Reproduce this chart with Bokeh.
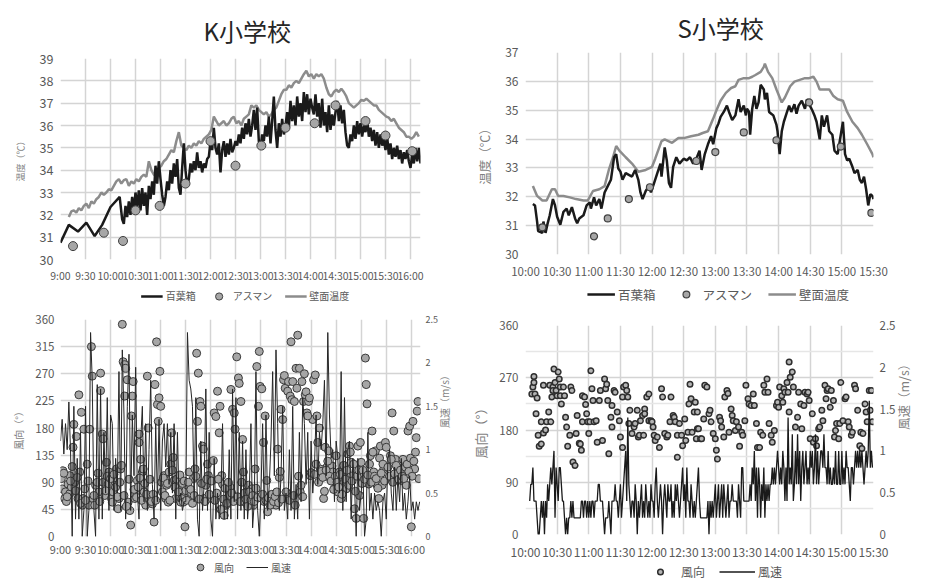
import math
from bokeh.plotting import figure
from bokeh.models import Range1d, LinearAxis, FixedTicker, Legend, LegendItem, Spacer
from bokeh.layouts import column, row
from bokeh.embed import file_html
from bokeh.resources import INLINE

FONT = "Noto Sans CJK JP"
LBL = "#595959"
AXT = "#7f7f7f"
GRID = "#d4d4d4"

# ---------------- axis ticks ----------------
k_ticks = [0, 30, 60, 90, 120, 150, 180, 210, 240, 270, 300, 330, 360, 390, 420]
k_tick_labels = ["9:00", "9:30", "10:00", "10:30", "11:00", "11:30", "12:00", "12:30",
                 "13:00", "13:30", "14:00", "14:30", "15:00", "15:30", "16:00"]
s_ticks = [0, 30, 60, 90, 120, 150, 180, 210, 240, 270, 300, 330]
s_tick_labels = ["10:00", "10:30", "11:00", "11:30", "12:00", "12:30", "13:00", "13:30",
                 "14:00", "14:30", "15:00", "15:30"]

# ---------------- K school temperatures (minutes after 9:00) ----------------
k_box_sparse_t = [0, 10, 21, 31, 41, 50, 60, 71]
k_box_sparse_v = [30.75, 31.55, 31.25, 31.65, 31.05, 31.55, 32.35, 32.8]
k_box_dense_v = [31.8, 31.6, 32.4, 31.9, 32.6, 32.0, 32.8, 32.2, 33.0, 32.3, 33.1, 32.2, 33.2, 32.4,
                 33.0, 32.0, 33.3, 32.7, 33.5, 32.9, 34.2, 33.4, 34.4, 33.6, 32.9, 32.4, 32.8, 33.5,
                 33.1, 34.0, 33.4, 34.3, 33.7, 34.5, 33.2, 32.9, 34.1, 35.2, 34.0, 33.3, 33.6, 34.3,
                 33.9, 34.4, 34.0, 34.8, 34.1, 34.4, 33.9, 34.3, 34.1, 34.5, 34.6, 35.3, 34.9, 35.9,
                 35.0, 34.7, 35.2, 33.9, 34.9, 35.3, 34.6, 35.2, 34.7, 35.4, 34.8, 35.0, 35.3,
                 35.1, 35.6, 35.2, 35.9, 35.4, 36.1, 35.6, 36.3, 35.5, 36.0, 36.7, 35.8, 36.8, 35.3,
                 35.0, 35.6, 35.3, 36.0, 35.5, 36.4, 35.2, 36.2, 37.3, 35.8, 35.0, 36.1, 35.5, 36.3,
                 35.6, 36.0, 36.6, 35.9, 37.1, 36.2, 36.9, 36.0, 37.3, 36.4, 37.0, 36.2, 37.5, 36.6,
                 37.4, 36.5, 37.2, 36.8, 36.5, 37.4, 36.4, 37.0, 35.9, 37.2, 36.0, 36.6, 35.7, 36.9,
                 35.8, 36.5, 36.0, 36.6, 37.1, 36.2, 36.9, 36.1, 36.7, 35.7, 35.1, 35.0, 35.6, 35.3,
                 36.0, 35.4, 36.2, 35.6, 36.1, 35.5, 36.0, 35.7, 36.3, 35.5, 35.9, 35.3, 35.8, 35.1,
                 35.7, 35.0, 35.6, 35.1, 35.4, 34.9, 35.5, 34.7, 35.2, 34.5, 35.0, 34.6, 35.1, 34.5,
                 34.9, 34.3, 34.8, 34.5, 34.9, 34.4, 34.1, 34.7, 34.3, 35.0, 34.4, 35.0, 34.3]
k_wall_v = [31.9, 32.15, 32.2, 32.1, 32.3, 32.2, 32.4, 32.5, 32.3, 32.6, 32.5, 32.7, 32.8, 33.0,
            32.9, 33.0, 33.15, 33.1, 33.3, 33.5, 33.6, 33.4, 33.55, 33.6, 33.3, 33.5, 33.4, 33.6,
            33.5, 33.7, 33.8, 33.7, 34.4, 34.0, 33.8, 33.7, 34.1, 34.2, 34.4, 34.5, 34.7, 34.9,
            34.8, 35.3, 35.7, 35.1, 35.0, 34.9, 35.1, 35.0, 35.2, 35.1, 35.3, 35.2, 35.4, 35.5,
            35.6, 35.8, 36.4, 36.2, 36.0, 36.1, 36.2, 36.0, 36.1, 36.3, 36.4, 36.1, 36.2, 36.0,
            36.3, 36.4, 36.5, 36.9, 36.8, 36.9, 36.7, 36.6, 36.5, 36.6, 36.4, 36.5, 36.7, 36.8,
            37.1, 37.4, 37.6, 37.6, 37.8, 37.7, 37.9, 38.0, 37.9, 38.1, 38.3, 38.45, 38.2, 38.3,
            38.1, 38.3, 38.2, 38.3, 38.1, 37.7, 37.4, 37.3, 37.5, 37.6, 37.5, 37.65, 37.5, 37.3,
            37.0, 36.9, 36.8, 36.9, 37.0, 37.15, 37.1, 37.2, 37.1, 37.0, 36.9, 36.9, 36.7, 36.6,
            36.5, 36.4, 36.35, 36.2, 36.3, 36.1, 35.9, 35.8, 35.7, 35.5, 35.5, 35.4, 35.5, 35.7,
            35.5]
k_asu_t = [15, 52, 75, 90, 119, 150, 180, 210, 241, 270, 305, 330, 366, 390, 422]
k_asu_v = [30.6, 31.2, 30.83, 32.2, 32.4, 33.4, 35.3, 34.2, 35.1, 35.9, 36.1, 36.9, 36.2, 35.55, 34.85]

# ---------------- S school temperatures (minutes after 10:00) ----------------
s_box_t = [7, 9, 11, 12, 16, 17, 19, 21, 23, 26, 28, 30, 33, 36, 39, 41, 44, 47, 49, 51, 55, 58, 61,
           62, 65, 67, 70, 72, 75, 78, 81, 84, 86, 88, 90, 92, 95, 98, 101, 104, 107, 109, 111, 114,
           117, 119, 122, 125, 128, 129, 132, 134, 136, 138, 140, 143, 146, 150, 153, 156, 159, 162,
           165, 167, 170, 173, 176, 178, 181, 183, 185, 188, 191, 193, 196, 199, 202, 204, 207, 209,
           210, 212, 213, 215, 217, 219, 221, 223, 226, 227, 229, 231, 233, 235, 238, 239, 241, 243,
           245, 248, 250, 252, 255, 257, 259, 262, 265, 267, 269, 272, 274, 276, 279, 281, 283, 286,
           288, 291, 293, 296, 298, 301, 303, 305, 307, 310, 312, 315, 317, 319, 321, 323, 325, 327,
           329, 330]
s_box_v = [31.75, 31.70, 31.14, 30.81, 30.75, 31.14, 30.75, 31.08, 31.36, 31.92, 31.70, 31.31, 31.03,
           31.48, 31.59, 31.36, 31.64, 31.25, 31.08, 31.25, 31.36, 31.70, 31.81, 31.59, 31.98, 31.70,
           31.92, 31.59, 32.15, 32.37, 32.59, 33.37, 33.48, 32.98, 32.87, 32.59, 32.82, 32.76, 32.70,
           32.93, 32.59, 32.15, 31.92, 32.20, 32.37, 32.15, 32.48, 32.82, 33.15, 32.70, 33.71, 33.26,
           32.48, 32.31, 33.04, 33.37, 33.15, 33.32, 33.26, 33.37, 33.15, 33.32, 33.60, 32.93, 33.48,
           33.82, 34.10, 33.82, 34.38, 34.54, 34.77, 34.94, 35.16, 34.94, 34.66, 34.82, 35.38, 34.94,
           35.16, 34.82, 35.05, 34.94, 34.15, 35.05, 35.49, 35.05, 35.27, 35.88, 35.72, 35.38, 35.60,
           34.94, 34.88, 34.82, 34.49, 34.27, 33.48, 34.27, 34.60, 34.94, 35.16, 34.94, 35.21, 34.88,
           35.16, 35.33, 35.05, 35.38, 35.21, 34.99, 34.82, 34.60, 33.99, 34.82, 34.43, 34.82, 34.27,
           34.15, 33.60, 33.48, 33.93, 34.60, 33.48, 33.26, 33.32, 33.04, 32.82, 32.93, 32.59, 32.48,
           32.70, 32.26, 31.70, 32.09, 32.03, 31.92]
s_wall_t = [7, 11, 16, 20, 25, 28, 31, 36, 42, 48, 55, 59, 64, 70, 75, 79, 83, 86, 89, 95, 101, 107,
            114, 120, 123, 129, 132, 139, 145, 151, 157, 164, 168, 173, 178, 181, 185, 190, 195, 199,
            202, 207, 212, 215, 218, 223, 226, 227, 230, 234, 238, 243, 246, 251, 255, 260, 265, 269,
            273, 276, 279, 283, 288, 292, 296, 301, 305, 310, 315, 319, 324, 329, 330]
s_wall_v = [32.37, 32.03, 31.87, 31.87, 32.26, 32.26, 32.03, 32.03, 31.98, 31.92, 31.87, 31.87, 32.20,
            32.26, 32.37, 32.93, 33.37, 33.76, 33.60, 33.37, 33.15, 32.87, 32.93, 33.04, 33.32, 33.93,
            33.99, 33.87, 34.04, 34.04, 34.10, 34.15, 34.21, 34.27, 34.71, 34.99, 35.33, 35.60, 35.77,
            35.83, 36.05, 36.11, 36.11, 36.16, 36.22, 36.33, 36.50, 36.61, 36.33, 36.11, 35.72, 35.27,
            35.44, 35.83, 35.99, 36.05, 36.11, 36.11, 36.16, 35.99, 35.72, 35.72, 35.72, 35.49, 35.38,
            35.33, 34.94, 34.60, 34.38, 34.15, 33.82, 33.48, 33.37]
s_asu_t = [16, 65, 78, 98, 118, 162, 180, 207, 238, 269, 299, 328]
s_asu_v = [30.94, 30.63, 31.25, 31.92, 32.33, 33.24, 33.55, 34.23, 33.96, 35.27, 33.74, 31.44]

# ---------------- K school wind (minutes after 9:00) ----------------
k_dir_t = [1, 2, 3, 5, 6, 7, 9, 11, 11, 13, 14, 15, 16, 17, 18, 19, 21, 22, 23, 25, 26, 27, 28, 29,
           32, 34, 35, 37, 38, 39, 41, 42, 44, 46, 48, 48, 50, 51, 51, 53, 55, 57, 58,
           61, 63, 65, 67, 69, 70, 72, 74, 75, 77, 78, 80, 77, 81, 83, 84, 85, 86, 87, 89, 90,
           92, 94, 94, 96, 98, 98, 100, 102, 104, 105, 106, 108, 110, 112, 113, 115, 116, 117, 118, 119, 120,
           121, 122, 124, 126, 127, 129, 130, 132, 133, 135, 136, 138, 140, 142, 144, 145, 147, 149, 150,
           152, 154, 155, 157, 159, 161, 163, 164, 165, 167, 168, 170, 171, 172, 174, 176, 177, 179, 180,
           183, 184, 186, 188, 190, 191, 193, 194, 196, 198, 200, 202, 203, 204, 206, 208, 209, 210,
           211, 213, 214, 216, 218, 219, 221, 223, 225, 227, 229, 231, 233, 235, 237, 238, 239, 241,
           243, 245, 247, 248, 250, 252, 254, 256, 258, 260, 262, 264, 266, 267, 268, 269,
           272, 273, 275, 276, 277, 278, 280, 282, 283, 284, 286, 287, 288, 289, 291, 293, 295, 297, 299,
           302, 303, 305, 307, 308, 310, 311, 313, 315, 317, 319, 321, 323, 325, 326, 328, 330,
           332, 334, 336, 338, 340, 342, 344, 346, 348, 350, 352, 354, 356, 358, 359, 360,
           363, 365, 366, 367, 369, 371, 373, 375, 377, 379, 381, 383, 385, 387, 389, 390,
           393, 395, 397, 399, 401, 403, 404, 406, 408, 410, 412, 414, 416, 418, 420, 422, 424, 426, 427, 428, 429,
           4, 8, 12, 20, 24, 30, 33, 40, 45, 47, 54, 56,
           60, 62, 64, 66, 68, 71, 73, 76, 79, 82, 88, 91, 93, 95, 97, 99, 101, 103, 107, 109, 111, 114,
           123, 125, 128, 131, 134, 137, 139, 141, 143, 146, 148, 151, 153, 156, 158, 160, 162, 166, 169, 173, 175, 178,
           181, 185, 187, 189, 192, 195, 197, 199, 201, 205, 207, 212, 215, 217, 220, 222, 224, 226, 228, 230, 232, 234, 236, 240,
           242, 244, 246, 249, 251, 253, 255, 257, 259, 261, 263, 265, 270, 274, 279, 281, 285, 290, 292, 294, 296, 298, 300,
           304, 306, 309, 312, 314, 316, 318, 320, 322, 324, 327, 329, 331, 333, 335, 337, 339, 341, 343, 345, 347, 349, 351, 353, 355, 357,
           361, 362, 364, 368, 370, 372, 374, 376, 378, 380, 382, 384, 386, 388,
           392, 394, 396, 398, 400, 402, 405, 407, 409, 411, 413, 415, 417, 419, 421, 423, 425]
k_dir_v = [96, 79, 109, 63, 74, 58, 87, 101, 71, 82, 116, 148, 186, 90, 76, 166, 63, 235, 107, 206, 52, 63, 178, 79,
           120, 52, 178, 315, 266, 63, 52, 85, 90, 74, 271, 242, 170, 162, 90, 68, 123, 87, 107,
           63, 74, 85, 112, 46, 63, 112, 352, 290, 285, 279, 260, 233, 57, 43, 19, 200, 233, 257, 63, 71,
           93, 170, 156, 128, 90, 107, 74, 52, 266, 180, 63, 57, 54, 24, 252, 323, 219, 191, 230, 274, 216,
           90, 74, 101, 63, 85, 57, 107, 120, 172, 131, 93, 63, 79, 66, 57, 63, 57, 16, 76,
           85, 107, 63, 71, 96, 112, 304, 191, 271, 224, 216, 150, 145, 63, 85, 120, 101, 93, 63,
           126, 205, 199, 241, 172, 216, 101, 87, 35, 52, 63, 68, 82, 244, 211, 205, 178, 63,
           298, 263, 254, 224, 161, 107, 57, 74, 85, 63, 79, 52, 112, 282, 216, 307, 249, 245,
           156, 200, 93, 41, 63, 68, 57, 68, 52, 145, 98, 211, 194, 260, 267, 246,
           241, 257, 233, 323, 227, 257, 224, 279, 246, 334, 279, 74, 85, 257, 224, 235, 205, 224, 101,
           194, 260, 268, 200, 156, 180, 112, 107, 63, 148, 115, 142, 96, 117, 107, 90, 134,
           74, 107, 63, 93, 107, 79, 137, 150, 123, 101, 46, 30, 150, 68, 156, 123,
           30, 296, 252, 220, 87, 134, 175, 107, 142, 85, 63, 150, 85, 112, 156, 148,
           96, 134, 205, 175, 128, 115, 101, 107, 93, 128, 112, 85, 175, 183, 16, 191, 112, 164, 208, 224, 96,
           105, 66, 92, 98, 55, 60, 92, 68, 105, 58, 76, 100,
           96, 57, 103, 82, 66, 90, 118, 68, 50, 95, 78, 65, 82, 97, 60, 112, 88, 70, 95, 58, 70, 60,
           97, 68, 88, 60, 110, 82, 95, 74, 102, 88, 92, 60, 90, 78, 55, 68, 100, 62, 88, 58, 95, 70,
           92, 60, 72, 95, 45, 62, 80, 55, 90, 72, 58, 66, 58, 90, 72, 62, 50, 74, 60, 68, 58, 80, 65, 64,
           70, 58, 60, 64, 52, 70, 58, 66, 74, 56, 108, 62, 74, 60, 68, 52, 100, 66, 270, 240, 200, 230, 106,
           103, 120, 90, 108, 98, 75, 110, 125, 100, 92, 78, 100, 90, 82, 103, 70, 118, 95, 110, 85, 140, 92, 120, 75, 100, 110,
           88, 110, 95, 102, 120, 90, 140, 100, 96, 80, 130, 105, 120, 92,
           115, 100, 128, 90, 104, 118, 95, 110, 100, 96, 115, 120, 108, 130, 100, 125, 140]
k_spd_v = [1.1, 1.35, 0.95, 1.3, 1.0, 1.55, 1.0, 0.0, 1.5, 0.2, 0.9, 0.2, 1.2, 0.0, 0.3,
           1.5, 0.0, 0.3, 2.35, 1.8, 0.3, 0.0, 1.75, 0.2, 1.7, 0.2, 1.2, 0.5, 1.6, 0.3,
           1.4, 1.3, 0.3, 0.9, 0.5, 1.9, 0.3, 2.15, 1.4, 0.2, 1.5, 2.1, 0.3, 1.4, 0.7,
           1.95, 0.5, 0.2, 1.1, 1.5, 0.4, 1.3, 0.3, 1.0, 1.8, 0.6, 0.2, 1.3, 0.4, 1.35,
           0.3, 1.1, 1.3, 0.8, 1.3, 0.6, 1.2, 0.5, 1.3, 0.2, 1.2, 0.4, 0.5, 0.3, 0.4,
           0.4, 2.35, 1.8, 1.7, 1.5, 0.4, 1.6, 0.2, 0.0, 1.1, 0.3, 0.6, 1.7, 0.3, 1.2,
           0.2, 0.0, 0.9, 0.2, 0.5, 0.2, 0.4, 1.3, 0.2, 0.6, 0.2, 1.0, 0.2, 1.7, 0.4,
           1.6, 0.2, 1.2, 0.3, 1.1, 0.2, 1.0, 0.2, 0.5, 1.3, 0.1, 0.4, 1.9, 0.3, 0.0,
           0.5, 1.3, 0.2, 1.4, 0.3, 0.6, 1.1, 1.9, 0.7, 2.15, 1.3, 0.3, 0.7, 1.5, 0.3,
           0.5, 0.2, 1.0, 0.3, 1.5, 0.2, 0.6, 0.2, 1.2, 0.4, 1.6, 1.3, 0.6, 1.2, 0.2,
           1.1, 0.5, 0.8, 1.4, 0.6, 1.2, 1.0, 1.3, 1.8, 0.7, 2.35, 1.4, 0.9, 1.0, 0.4,
           1.1, 0.9, 0.5, 1.9, 0.3, 1.6, 0.4, 1.0, 1.1, 0.2, 0.9, 0.6, 0.0, 0.9, 0.3,
           0.5, 0.8, 0.0, 0.2, 1.2, 0.3, 0.5, 0.2, 0.5, 0.3, 0.4, 0.3, 0.0, 0.4, 0.5,
           0.2, 0.9, 1.0, 0.5, 0.3, 0.8, 0.3, 0.7, 0.4, 0.9, 0.3, 0.5, 0.2, 0.4, 0.7,
           0.3, 0.4, 0.2, 0.4, 0.3, 0.4]

# ---------------- S school wind (minutes after 10:00) ----------------
s_dir_t = [6, 7, 8, 8, 9, 11, 10, 12, 13, 15, 15, 17, 19, 20, 22, 17, 23, 24, 25, 26, 26, 27, 28, 29,
           30, 31, 32, 33, 33, 34, 36, 37, 38, 39, 40, 42, 43, 44, 45, 47, 48, 49, 51, 52, 53, 54, 54,
           56, 57, 58, 59, 60, 61, 62, 63, 64, 65, 67, 68, 70, 71, 73, 75, 76, 77, 78, 79, 81, 82, 82,
           84, 85, 87, 89, 90, 92, 92, 93, 95, 96, 97, 98, 99, 101, 103, 104, 106, 107, 108, 109, 111,
           112, 113, 113, 115, 117, 117, 119, 120, 121, 122, 123, 125, 127, 129, 130, 132, 134, 135,
           137, 138, 140, 141, 142, 144, 144, 146, 148, 149, 151, 152, 154, 155, 156, 157, 158, 160,
           162, 163,
           161, 163, 164, 166, 167, 169, 170, 172, 174, 175, 176, 178, 180, 181, 182, 184, 185, 186,
           188, 189, 191, 192, 193, 195, 196, 197, 199, 200, 202, 203, 205, 206, 208, 209, 211, 212,
           214, 216, 217, 219, 220, 222, 223, 225, 226, 227, 229, 230, 231, 233, 234, 236, 238, 239,
           240, 241, 243, 244, 245, 246, 248, 249, 250, 250, 251, 253, 254, 256, 258, 259, 261, 262,
           264, 265, 267, 268, 269, 270, 272, 273, 275, 276, 278, 279, 281, 282, 284, 285, 286, 287,
           289, 290, 292, 293, 294, 295, 297, 298, 299, 301, 303, 304, 306, 307, 309, 310, 312, 313,
           315, 317, 318, 319, 320, 322, 323, 324, 326, 327, 329, 328]
s_dir_v = [242, 254, 262, 272, 242, 235, 208, 171, 152, 156, 194, 175, 180, 194, 211, 257, 257, 194,
           237, 254, 248, 285, 262, 248, 239, 280, 268, 254, 239, 225, 254, 239, 202, 185, 152, 171,
           254, 248, 125, 119, 174, 205, 157, 156, 145, 194, 239, 237, 224, 208, 194, 174, 194, 282,
           251, 231, 194, 196, 159, 231, 248, 162, 268, 251, 259, 231, 139, 202, 185, 222, 248, 245,
           211, 196, 168, 150, 237, 254, 257, 248, 237, 191, 214, 174, 185, 191, 214, 168, 171, 196,
           205, 171, 216, 208, 237, 242, 196, 196, 194, 185, 171, 162, 168, 150, 251, 237, 174, 168,
           171, 194, 237, 205, 202, 194, 171, 133, 191, 171, 153, 199, 162, 176, 225, 259, 234, 176,
           211, 165, 182,
           228, 211, 182, 165, 165, 199, 257, 254, 208, 214, 194, 174, 165, 145, 130, 202, 196, 185,
           168, 237, 248, 243, 176, 216, 205, 196, 179, 194, 185, 152, 176, 171, 196, 257, 234, 225,
           222, 242, 222, 191, 150, 150, 176, 171, 257, 245, 268, 245, 191, 171, 159, 179, 222, 228,
           219, 254, 239, 228, 251, 245, 262, 245, 211, 297, 271, 280, 254, 185, 202, 245, 225, 182,
           222, 245, 242, 245, 231, 165, 208, 159, 165, 153, 182, 185, 214, 196, 257, 234, 248, 251,
           219, 248, 231, 168, 179, 191, 165, 191, 262, 196, 234, 237, 194, 185, 171, 176, 257, 251,
           214, 153, 176, 148, 174, 225, 211, 194, 248, 214, 194, 248]
s_spd_v = [0.4, 0.6, 0.6, 0.8, 0.4, 0.4,
           0.4, 0.2, 0.0, 0.0, 0.2, 0.4, 0.2, 0.4, 0.0, 0.4,
           0.2, 0.6, 0.4, 0.6, 0.8, 0.6, 0.8, 1.0, 0.2, 0.8,
           0.6, 0.4, 0.8, 0.8, 0.6, 0.4, 0.4, 0.2, 0.0, 0.2,
           0.0, 0.2, 0.2, 0.4, 0.2, 0.4, 0.2, 0.2, 0.2, 0.2,
           0.2, 0.2, 0.2, 0.4, 0.4, 0.2, 0.4, 0.4, 0.2, 0.4,
           0.2, 0.4, 0.2, 0.4, 0.4, 0.2, 0.4, 0.4, 0.4, 0.6,
           0.6, 0.4, 0.4, 0.4, 0.2, 0.0, 0.2, 0.2, 0.2, 0.4,
           0.2, 0.0, 0.4, 0.4, 0.4, 0.6, 0.4, 0.4, 0.2, 0.4,
           0.6, 0.2, 0.4, 0.6, 0.8, 1.0, 0.4, 1.4, 0.6, 0.4,
           0.2, 0.4, 0.4, 0.2, 0.6, 0.4, 0.0, 0.4, 0.2, 0.4,
           0.6, 0.2, 0.4, 0.2, 0.6, 0.4, 0.2, 0.4, 0.2, 0.6,
           0.4, 0.4, 0.2, 0.6, 0.8, 0.4, 0.2, 0.4, 0.6, 0.4,
           0.0, 0.4, 0.6, 0.4, 0.2, 0.6, 0.4, 0.4, 0.6, 0.2,
           0.4, 0.2, 0.6, 0.4, 0.6, 0.4, 0.2, 0.4, 0.6, 0.8,
           0.4, 0.6, 0.2, 0.8, 0.4, 0.4, 0.2, 0.6, 0.4, 0.2,
           0.4, 0.2, 0.4, 0.6, 0.8, 0.4, 0.2, 0.2, 0.2, 0.2,
           0.2, 0.2, 0.2, 0.4, 0.0, 0.4, 0.2, 0.4, 0.2, 0.4,
           0.6, 0.2, 0.4, 0.6, 0.2, 0.4, 0.6, 0.2, 0.6, 0.4,
           0.2, 0.4, 0.6, 0.2, 0.4, 0.4, 0.6, 0.4, 0.4, 0.4,
           0.4, 0.2, 0.6, 0.4, 0.2, 0.8, 0.8, 0.4, 0.4, 0.4,
           0.4, 0.4, 0.4, 0.6, 0.4, 0.8, 0.6, 1.0, 0.4, 0.8,
           0.2, 0.8, 0.6, 0.2, 0.6, 0.4, 0.8, 0.2, 0.6, 0.4,
           0.6, 0.4, 0.6, 0.6, 0.8, 0.6, 0.8, 0.6, 0.8, 1.0,
           0.8, 0.6, 0.8, 0.6, 1.0, 0.8, 0.4, 0.8, 0.4, 1.4,
           0.6, 0.8, 0.6, 1.2, 0.4, 0.6, 1.0, 0.6, 1.2, 0.6,
           1.0, 0.4, 0.8, 1.0, 0.6, 0.8, 1.0, 0.6, 0.8, 0.6,
           1.0, 0.8, 1.0, 0.6, 0.8, 1.2, 0.6, 1.0, 0.6, 0.8,
           1.0, 1.0, 0.8, 1.2, 0.8, 0.8, 0.6, 1.0, 0.6, 0.8,
           0.6, 0.6, 0.8, 0.6, 1.0, 0.6, 0.6, 1.0, 0.6, 0.6,
           1.0, 0.6, 0.8, 0.6, 1.0, 0.8, 0.8, 0.6, 0.4, 0.8,
           0.8, 0.6, 0.8, 1.0, 0.8, 1.0, 0.8, 1.0, 0.8, 1.0,
           0.8, 0.6, 0.8, 1.0, 0.8, 1.0, 1.6, 0.8, 1.0, 0.8]

# derived sample times (sampling interval of the loggers)
k_box_t = k_box_sparse_t + [74 + 2 * i for i in range(len(k_box_dense_v))]
k_box_v = k_box_sparse_v + k_box_dense_v
k_wall_t = [10 + 3 * i for i in range(len(k_wall_v))]
k_spd_t = [2 * i for i in range(len(k_spd_v))]
s_spd_t = [4 + i for i in range(len(s_spd_v))]

# styles
BOX = dict(line_color="#1a1a1a", line_width=2.5)
WALL = dict(line_color="#8c8c8c", line_width=2.5)
ASU_K = dict(marker="circle", size=9, fill_color="#a6a6a6", line_color="#404040", line_width=1)
ASU_S = dict(marker="circle", size=7, fill_color="#a6a6a6", line_color="#404040", line_width=1.2)
DIR_K = dict(marker="circle", size=8, fill_color="#a6a6a6", line_color="#3a3a3a", line_width=1)
DIR_S = dict(marker="circle", size=5.5, fill_color="#b4b4b4", line_color="#2e2e2e", line_width=1.5)
SPD_K = dict(line_color="#262626", line_width=1)
SPD_S = dict(line_color="#1a1a1a", line_width=1.3)

W1 = 462   # left column width
W2 = 463   # right column width


def make_fig(width, height, x_end, y0, y1, bl, br, bt, bb):
    p = figure(width=width, height=height, x_range=Range1d(0, x_end), y_range=Range1d(y0, y1),
               output_backend="svg", toolbar_location=None,
               min_border_left=bl, min_border_right=br, min_border_top=bt, min_border_bottom=bb)
    p.outline_line_color = None
    p.grid.grid_line_color = GRID
    p.grid.grid_line_width = 1.5
    return p


def style_axes(p, ticks, labels, xsize, ysize, xstand, ystand):
    p.xaxis.ticker = FixedTicker(ticks=ticks)
    p.xaxis.major_label_overrides = dict(zip(ticks, labels))
    for ax in p.axis:
        ax.axis_line_color = None
        ax.major_tick_line_color = None
        ax.minor_tick_line_color = None
        ax.major_tick_out = 0
        ax.major_tick_in = 0
        ax.minor_tick_out = 0
        ax.major_label_text_font = FONT
        ax.major_label_text_color = LBL
        ax.axis_label_text_font = FONT
        ax.axis_label_text_color = AXT
        ax.axis_label_text_font_style = "normal"
    p.xaxis.major_label_text_font_size = xsize
    p.xaxis.major_label_standoff = xstand
    p.yaxis[0].major_label_text_font_size = ysize
    p.yaxis[0].major_label_standoff = ystand


def style_title(p, text, size, standoff, offset):
    p.title.text = text
    p.title.align = "left"
    p.title.offset = offset
    p.title.text_font = FONT
    p.title.text_font_size = size
    p.title.text_font_style = "normal"
    p.title.text_color = "#262626"
    p.title.standoff = standoff


def legend_fig(width, height, entries, size, gw, gh, spacing):
    # small key strip under a chart; proxy renderers sit outside its visible range
    f = figure(width=width, height=height, x_range=Range1d(0, 1), y_range=Range1d(0, 1),
               output_backend="svg", toolbar_location=None, min_border=0,
               x_axis_location=None, y_axis_location=None)
    f.outline_line_color = None
    f.grid.visible = False
    items = []
    for label, kind, style in entries:
        if kind == "line":
            r = f.line([-2, -1], [-2, -1], **style)
        else:
            r = f.scatter([-2], [-2], **style)
        items.append(LegendItem(label=label, renderers=[r]))
    lg = Legend(items=items, orientation="horizontal", location="center")
    lg.label_text_font = FONT
    lg.label_text_font_size = size
    lg.label_text_color = LBL
    lg.border_line_color = None
    lg.background_fill_alpha = 0
    lg.glyph_width = gw
    lg.glyph_height = gh
    lg.label_height = gh
    lg.label_standoff = 3
    lg.spacing = spacing
    lg.padding = 0
    lg.margin = 0
    f.add_layout(lg)
    return f


# ---------- panel 1 : K temperature ----------
p1 = make_fig(W1, 288, 432, 30, 39, 60, 24, 50, 29)
style_title(p1, "K小学校", "24px", 21, 143)
p1.line(k_wall_t, k_wall_v, **WALL)
p1.line(k_box_t, k_box_v, **BOX)
p1.scatter(k_asu_t, k_asu_v, **ASU_K)
p1.yaxis.ticker = FixedTicker(ticks=[30, 31, 32, 33, 34, 35, 36, 37, 38, 39])
p1.yaxis.axis_label = "温度（℃）"
p1.yaxis.axis_label_text_font_size = "9px"
p1.yaxis.axis_label_standoff = 10
style_axes(p1, k_ticks, k_tick_labels, "10.5px", "12.5px", 8, 7)
leg1 = legend_fig(300, 15, [("百葉箱", "line", BOX), ("アスマン", "scatter", ASU_K),
                            ("壁面温度", "line", WALL)], "10px", 22, 18, 12)

# ---------- panel 2 : S temperature ----------
p2 = make_fig(W2, 284, 330, 30, 37, 63, 30, 45, 30)
style_title(p2, "S小学校", "24px", 15, 152)
p2.line(s_wall_t, s_wall_v, **WALL)
p2.line(s_box_t, s_box_v, **BOX)
p2.scatter(s_asu_t, s_asu_v, **ASU_S)
p2.yaxis.ticker = FixedTicker(ticks=[30, 31, 32, 33, 34, 35, 36, 37])
p2.yaxis.axis_label = "温度（℃）"
p2.yaxis.axis_label_text_font_size = "12.5px"
p2.yaxis.axis_label_standoff = 8
style_axes(p2, s_ticks, s_tick_labels, "11.5px", "12px", 8, 7)
leg2 = legend_fig(330, 19, [("百葉箱", "line", BOX), ("アスマン", "scatter", ASU_S),
                            ("壁面温度", "line", WALL)], "12.5px", 28, 17, 16)

# ---------- panel 3 : K wind ----------
p3 = make_fig(W1, 256, 431, 0, 360, 60, 25, 16, 21)
p3.extra_y_ranges = {"spd": Range1d(0, 2.5)}
p3.scatter(k_dir_t, k_dir_v, **DIR_K)
p3.line(k_spd_t, k_spd_v, y_range_name="spd", **SPD_K)
p3.yaxis.ticker = FixedTicker(ticks=[0, 45, 90, 135, 180, 225, 270, 315, 360])
p3.yaxis.axis_label = "風向（°）"
p3.yaxis.axis_label_text_font_size = "10px"
p3.yaxis.axis_label_standoff = 6
ax3 = LinearAxis(y_range_name="spd", ticker=FixedTicker(ticks=[0, 0.5, 1, 1.5, 2, 2.5]),
                 major_label_overrides={0: "0", 0.5: "0.5", 1: "1", 1.5: "1.5", 2: "2", 2.5: "2.5"},
                 axis_label="風速（m/s）", axis_label_text_font_size="10px")
p3.add_layout(ax3, "right")
style_axes(p3, k_ticks, k_tick_labels, "11px", "11.5px", 4, 6)
ax3.major_label_text_font_size = "9px"
ax3.major_label_standoff = 5
ax3.axis_label_standoff = 4
ax3.axis_label_orientation = math.pi / 2
leg3 = legend_fig(200, 15, [("風向", "scatter", DIR_K), ("風速", "line", SPD_K)],
                  "10px", 22, 17, 12)

# ---------- panel 4 : S wind ----------
p4 = make_fig(W2, 259, 330, 0, 360, 63, 35, 22, 28)
p4.extra_y_ranges = {"spd": Range1d(0, 2.5)}
p4.scatter(s_dir_t, s_dir_v, **DIR_S)
p4.line(s_spd_t, s_spd_v, y_range_name="spd", **SPD_S)
p4.yaxis.ticker = FixedTicker(ticks=[0, 90, 180, 270, 360], minor_ticks=[45, 135, 225, 315])
p4.ygrid.minor_grid_line_color = "#e6e6e6"
p4.ygrid.minor_grid_line_width = 1.5
p4.yaxis.axis_label = "風向（°）"
p4.yaxis.axis_label_text_font_size = "13px"
p4.yaxis.axis_label_standoff = 6
ax4 = LinearAxis(y_range_name="spd", ticker=FixedTicker(ticks=[0, 0.5, 1, 1.5, 2, 2.5]),
                 major_label_overrides={0: "0", 0.5: "0.5", 1: "1", 1.5: "1.5", 2: "2", 2.5: "2.5"},
                 axis_label="風速（m/s）", axis_label_text_font_size="12.5px")
p4.add_layout(ax4, "right")
style_axes(p4, s_ticks, s_tick_labels, "12px", "11.5px", 8, 7)
ax4.major_label_text_font_size = "11.5px"
ax4.major_label_standoff = 6
ax4.axis_label_standoff = 5
ax4.axis_label_orientation = math.pi / 2
leg4 = legend_fig(220, 18, [("風向", "scatter", DIR_S), ("風速", "line", SPD_S)],
                  "12px", 36, 14, 14)

col1 = column(p1, row(Spacer(width=95, height=15), leg1),
              p3, row(Spacer(width=140, height=15), leg3))
col2 = column(p2, row(Spacer(width=91, height=19), leg2),
              p4, row(Spacer(width=140, height=18), leg4))
layout = row(col1, col2)
open("out.html", "w").write(file_html(layout, INLINE))
